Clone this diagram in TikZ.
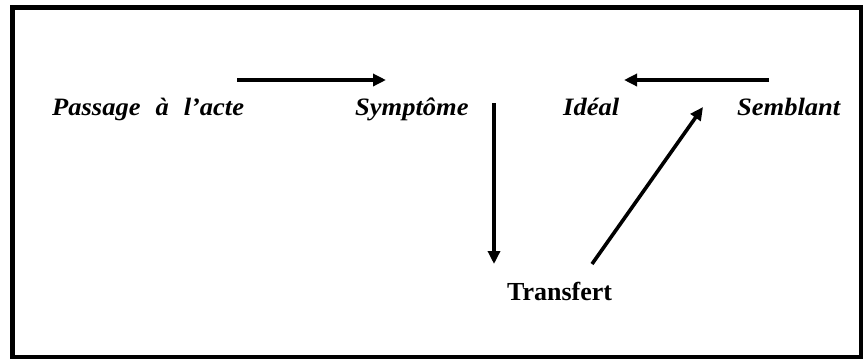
\documentclass[tikz,border=0pt]{standalone}
\usepackage{fontspec}
\setmainfont{Liberation Serif}
\newfontfamily\lblfont{Liberation Serif}[FakeStretch=1.06]
\usetikzlibrary{arrows.meta}
\begin{document}
\begin{tikzpicture}[x=1pt,y=-1pt,
  lbl/.style={font=\fontsize{25}{27}\lblfont\bfseries\itshape, inner sep=0pt, anchor=base west},
  tlbl/.style={font=\fontsize{26}{28}\selectfont\bfseries, inner sep=0pt, anchor=base west},
  arr/.style={line width=3.6pt, -{Triangle[length=13pt,width=12pt]}}]
\useasboundingbox (0,0) rectangle (864,360);
\draw[line width=4.5pt] (12.5,7.5) rectangle (861,357);
\node[lbl] (pa) at (52,115) {Passage\hspace{15pt}à\hspace{15pt}l’acte};
\node[lbl] (sy) at (355,115) {Symptôme};
\node[lbl] (id) at (563,115) {Idéal};
\node[lbl] (se) at (737,115) {Semblant};
\node[tlbl] (tr) at (507,300) {Transfert};
\coordinate (a1s) at (237,80);
\coordinate (a1e) at (386,80);
\coordinate (a2s) at (769,80);
\coordinate (a2e) at (624,80);
\coordinate (a3s) at (494,103);
\coordinate (a3e) at (494,264);
\coordinate (a4s) at (592,264);
\coordinate (a4e) at (703,107);
\draw[arr] (a1s) -- (a1e);
\draw[arr] (a2s) -- (a2e);
\draw[arr] (a3s) -- (a3e);
\draw[arr] (a4s) -- (a4e);
\end{tikzpicture}
\end{document}
